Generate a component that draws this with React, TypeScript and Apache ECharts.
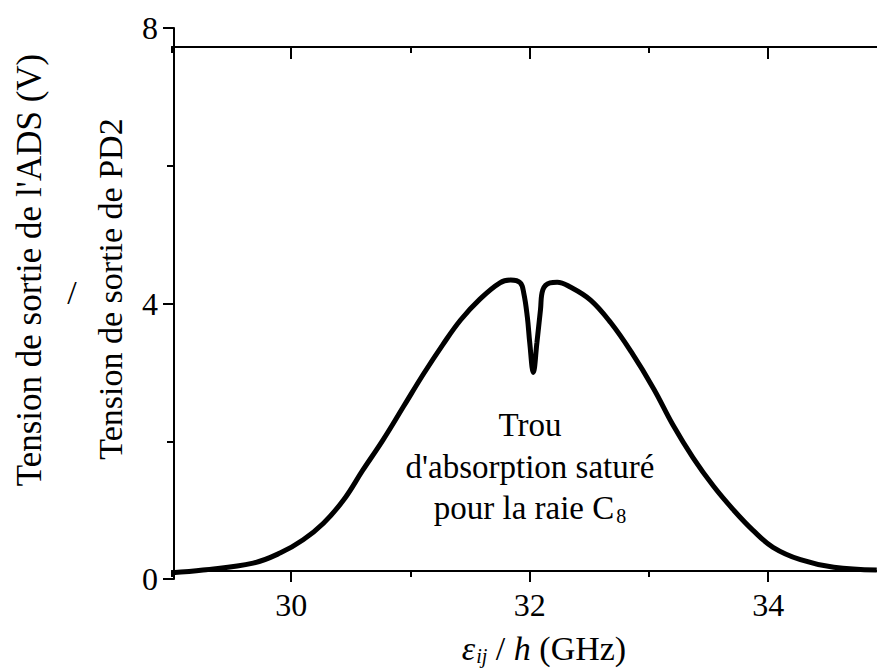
import React, { useEffect, useRef } from "react";
import * as echarts from "echarts";

// Frequency (GHz) and output voltage (V)
const freqGHz: number[] = [
  29.0, 29.26, 29.68, 29.91, 30.1, 30.27, 30.44, 30.6, 30.77, 30.94, 31.11, 31.27,
  31.42, 31.58, 31.75, 31.84, 31.92, 31.95, 31.98, 32.0, 32.03, 32.06, 32.09, 32.11,
  32.17, 32.23, 32.34, 32.51, 32.68, 32.85, 33.04, 33.2, 33.37, 33.54, 33.71, 33.87,
  34.04, 34.27, 34.55, 34.91,
];
const voltage: number[] = [
  0.09, 0.13, 0.23, 0.38, 0.57, 0.81, 1.15, 1.58, 2.02, 2.5, 2.98, 3.4,
  3.76, 4.06, 4.3, 4.34, 4.3, 4.15, 3.8, 3.43, 3.0, 3.43, 3.91, 4.2,
  4.3, 4.31, 4.24, 4.05, 3.72, 3.3, 2.76, 2.24, 1.76, 1.35, 1.0, 0.71,
  0.46, 0.28, 0.17, 0.13,
];
const xMajorTicks: number[] = [30, 32, 34];
const xMinorTicks: number[] = [29, 31, 33];
const xRange: number[] = [29, 34.912];
const yRange: number[] = [0, 8];
const boxYRange: number[] = [0.116, 7.724];

const FONT = "Liberation Serif, Times New Roman, serif";
const BLACK = "#000";

export default function App() {
  const ref = useRef<HTMLDivElement>(null);
  useEffect(() => {
    if (!ref.current) return;
    const chart = echarts.init(ref.current, undefined, { renderer: "svg" });
    const line = { color: BLACK, width: 2 };
    const baseX = (extra: any) => ({
      type: "value",
      gridIndex: 0,
      min: xRange[0],
      max: xRange[1],
      splitLine: { show: false },
      axisLine: { show: true, onZero: false, lineStyle: line },
      ...extra,
    });
    const txt = (text: string, x: number, y: number, size: number, rot = 0) => ({
      type: "text",
      x,
      y,
      rotation: rot,
      style: {
        text,
        fontSize: size,
        fontFamily: FONT,
        fill: BLACK,
        align: "center",
        verticalAlign: "middle",
      },
    });
    const option: any = {
      animation: false,
      backgroundColor: "#fff",
      textStyle: { fontFamily: FONT },
      grid: [
        { left: 172, right: 0, top: 47, bottom: 99 },
        { left: 172, right: 0, top: 28, bottom: 91 },
      ],
      xAxis: [
        baseX({
          position: "bottom",
          axisTick: { show: true, inside: false, length: 11, customValues: xMajorTicks, lineStyle: line },
          axisLabel: {
            show: true,
            customValues: xMajorTicks,
            fontSize: 32,
            fontFamily: FONT,
            color: BLACK,
            margin: 18,
          },
        }),
        baseX({
          position: "bottom",
          axisTick: { show: true, inside: false, length: 6, customValues: xMinorTicks, lineStyle: line },
          axisLabel: { show: false },
        }),
        baseX({
          position: "top",
          axisTick: { show: true, inside: true, length: 12, customValues: xMajorTicks, lineStyle: line },
          axisLabel: { show: false },
        }),
        baseX({
          position: "top",
          axisTick: { show: true, inside: true, length: 6, customValues: xMinorTicks, lineStyle: line },
          axisLabel: { show: false },
        }),
        {
          type: "value",
          gridIndex: 1,
          min: xRange[0],
          max: xRange[1],
          show: false,
        },
      ],
      yAxis: [
        { type: "value", gridIndex: 0, min: boxYRange[0], max: boxYRange[1], show: false },
        {
          type: "value",
          gridIndex: 1,
          min: yRange[0],
          max: yRange[1],
          interval: 4,
          position: "left",
          offset: -2,
          axisLine: { show: true, onZero: false, lineStyle: line },
          axisTick: { show: true, inside: false, length: 11, lineStyle: line },
          minorTick: { show: true, splitNumber: 2, length: 7, lineStyle: line },
          splitLine: { show: false },
          minorSplitLine: { show: false },
          axisLabel: { fontSize: 32, fontFamily: FONT, color: BLACK, margin: 16 },
        },
      ],
      series: [
        {
          type: "line",
          xAxisIndex: 4,
          yAxisIndex: 1,
          data: freqGHz.map((f, i) => [f, voltage[i]]),
          showSymbol: false,
          smooth: 0.4,
          clip: false,
          lineStyle: { color: BLACK, width: 5 },
        },
      ],
      graphic: [
        txt("Tension de sortie de l'ADS (V)", 29, 270, 35, Math.PI / 2),
        txt("/", 72, 292, 34),
        txt("Tension de sortie de PD2", 110, 289, 34, Math.PI / 2),
        txt("Trou", 530, 425, 33),
        txt("d'absorption saturé", 530, 467, 33),
        {
          type: "text",
          x: 530,
          y: 508,
          style: {
            text: "{n|pour la raie C}{sub|8}",
            align: "center",
            verticalAlign: "middle",
            fontFamily: FONT,
            rich: {
              n: { fontSize: 33, fontFamily: FONT, fill: BLACK, color: BLACK },
              sub: { fontSize: 20, fontFamily: FONT, fill: BLACK, color: BLACK, padding: [16, 0, 0, 2] },
            },
          },
        },
        {
          type: "text",
          x: 544,
          y: 648,
          style: {
            text: "{i|ε}{sub|ij}{n| / }{i|h}{n| (GHz)}",
            align: "center",
            verticalAlign: "middle",
            fontFamily: FONT,
            rich: {
              i: { fontSize: 34, fontFamily: FONT, fontStyle: "italic", fill: BLACK, color: BLACK },
              n: { fontSize: 34, fontFamily: FONT, fill: BLACK, color: BLACK },
              sub: {
                fontSize: 20,
                fontFamily: FONT,
                fontStyle: "italic",
                fill: BLACK,
                color: BLACK,
                padding: [16, 0, 0, 1],
              },
            },
          },
        },
      ],
    };
    chart.setOption(option);
    return () => chart.dispose();
  }, []);
  return (
    <div
      ref={ref}
      style={{ position: "absolute", left: 0, top: 0, width: 877, height: 670, background: "#fff" }}
    />
  );
}
